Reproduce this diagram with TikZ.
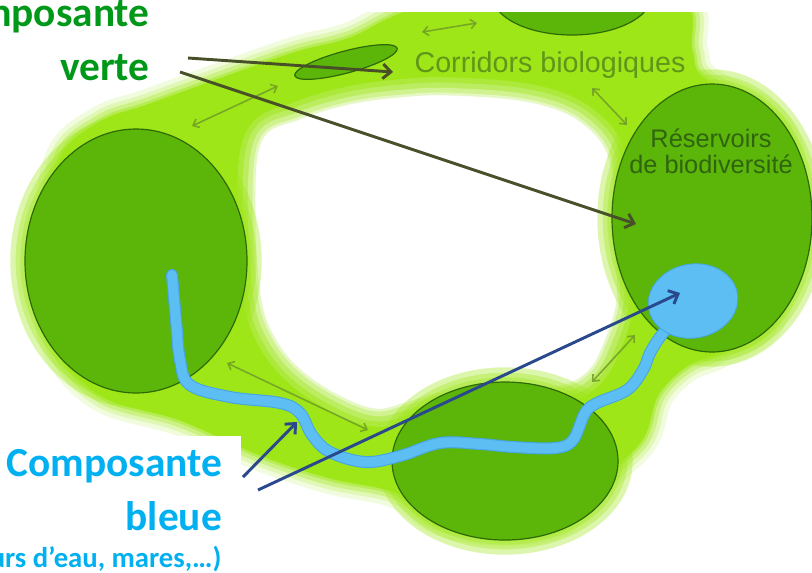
\documentclass[tikz,border=0pt]{standalone}
\usepackage{fontspec}
\setmainfont{Carlito}
\newfontfamily\arialfont{Liberation Sans}
\usetikzlibrary{arrows.meta,positioning}

\definecolor{bandlime}{RGB}{158,230,24}
\definecolor{resgreen}{RGB}{92,182,10}
\definecolor{resline}{RGB}{45,105,5}
\definecolor{riverblue}{RGB}{92,190,242}
\definecolor{riveredge}{RGB}{70,165,228}
\definecolor{labelgreen}{RGB}{0,152,24}
\definecolor{labelblue}{RGB}{0,176,240}
\definecolor{arrowolive}{RGB}{72,80,42}
\definecolor{arrowblue}{RGB}{42,72,140}
\definecolor{corridortext}{RGB}{96,150,26}
\definecolor{reservetext}{RGB}{48,100,14}
\definecolor{linkolive}{RGB}{112,156,40}

\tikzset{every picture/.style={line width=0.75pt}}
\tikzset{
  reservoir/.style={fill=resgreen, draw=resline, line width=0.9pt},
  halo/.style={draw=bandlime, line width=#1, draw opacity=0.35},
  link/.style={draw=linkolive, line width=1.2pt, draw opacity=0.85,
    {Straight Barb[length=4pt,width=7pt]}-{Straight Barb[length=4pt,width=7pt]}},
  vertearrow/.style={draw=arrowolive, line width=2.2pt, -{Straight Barb[length=6pt,width=11pt]}},
  bleuearrow/.style={draw=arrowblue, line width=2.2pt, -{Straight Barb[length=6pt,width=11pt]}},
  biglabel/.style={font=\bfseries\fontsize{31}{40}\selectfont, align=right, inner sep=0pt},
}

\begin{document}
\begin{tikzpicture}[x=0.75pt,y=0.75pt,yscale=-1,xscale=1]
\useasboundingbox (0,0) rectangle (812,572);

\begin{scope}
\clip (0,12) rectangle (812,572);
%Shape: green band (soft edge)
\foreach \w/\op/\fo in {24pt/0.15/0, 17pt/0.2/0, 11pt/0.3/0, 5pt/0.45/0, 1pt/0.8/1}
  \draw [bandlime, line width=\w, draw opacity=\op, fill=bandlime, fill opacity=\fo]
    plot [smooth cycle, tension=0.6] coordinates {(50,250) (60,160) (100,122) (150,104) (250,68) (300,51) (350,38) (420,8) (560,-10) (680,0) (692,50) (705,80) (780,130) (790,220) (770,320) (720,352) (687,366) (658,395) (642,440) (600,480) (560,520) (505,530) (440,520) (395,492) (330,478) (260,455) (180,420) (100,395) (55,340)};
%Shape: white hole (soft edge)
\foreach \w/\op/\fo in {28pt/0.15/0, 20pt/0.2/0, 12pt/0.3/0, 5pt/0.45/0, 1pt/0.8/1}
  \draw [white, line width=\w, draw opacity=\op, fill=white, fill opacity=\fo]
    plot [smooth cycle, tension=0.6] coordinates {(262,142) (300,120) (350,105) (400,98) (450,96) (530,103) (582,124) (610,165) (614,250) (616,300) (603,343) (586,372) (555,386) (500,384) (440,392) (405,402) (375,408) (338,394) (302,370) (277,340) (262,300) (256,220)};

%Shape: Ellipse top
\draw [halo=12pt] (572,-5) ellipse [x radius=80, y radius=40];
\draw [reservoir] (572,-5) ellipse [x radius=80, y radius=40];
%Shape: Ellipse left
\foreach \w in {22pt,14pt,7pt}
  \draw [halo=\w] (136,261) ellipse [x radius=111, y radius=132];
\draw [reservoir] (136,261) ellipse [x radius=111, y radius=132];
%Shape: Ellipse right
\foreach \w in {22pt,14pt,7pt}
  \draw [halo=\w] (712,218) ellipse [x radius=100, y radius=134];
\draw [reservoir] (712,218) ellipse [x radius=100, y radius=134];
%Shape: Ellipse bottom
\foreach \w in {22pt,14pt,7pt}
  \draw [halo=\w] (505,461) ellipse [x radius=113, y radius=79];
\draw [reservoir] (505,461) ellipse [x radius=113, y radius=79];
%Shape: Ellipse corridor
\draw [reservoir, rotate around={-15:(346,62)}] (346,62) ellipse [x radius=53, y radius=11];

%Straight Lines: links
\draw [link] (192,126) -- (278,86);
\draw [link] (422,32) -- (477,23);
\draw [link] (592,88) -- (627,125);
\draw [link] (635,335) -- (592,382);
\draw [link] (227,363) -- (368,430);

%Curve: river
\foreach \w/\c in {9pt/riveredge, 7.4pt/riverblue}
  \draw [\c, line width=\w, line cap=round, line join=round]
    plot [smooth, tension=0.6] coordinates {(172,275) (176,320) (180,360) (190,385) (230,397) (280,403) (300,413) (312,435) (330,452) (365,462) (400,456) (440,443) (480,444) (513,447) (555,448) (573,440) (585,413) (597,403) (627,390) (643,370) (650,353) (660,337) (672,322)};
%Shape: pond
\draw [fill=riverblue, draw=riveredge, line width=0.6pt, rotate around={-10:(693,301)}] (693,301) ellipse [x radius=45, y radius=37];
\end{scope}

% Text Node
\node [anchor=base, font=\arialfont\fontsize{21.5}{24}\selectfont, text=corridortext, inner sep=0pt] (corridors) at (550,72) {Corridors biologiques};
% Text Node
\node [anchor=north, align=center, font=\arialfont\fontsize{19}{19.5}\selectfont, text=reservetext, inner sep=0pt] (reservoirs) at (711,128) {Réservoirs\\de biodiversité};

% Text Node
\node [biglabel, text=labelgreen, anchor=base east] (verte) at (150,80) {Composante\\verte};
% Text Node
\node [biglabel, text=labelblue, fill=white, inner xsep=14pt, inner ysep=10pt, anchor=base east] (bleue) at (241,530) {Composante\\bleue};
% Text Node
\node [font=\bfseries\fontsize{21.5}{24}\selectfont, text=labelblue, fill=white, inner sep=0pt, anchor=base east] (bleuenote) at (222,567) {(cours d’eau, mares,…)};

\coordinate (verte1) at (188,58);
\coordinate (verte2) at (180,72);
\coordinate (corridor) at (393,72);
\coordinate (reservoir) at (636,224);
\coordinate (bleue1) at (243,477);
\coordinate (bleue2) at (258,490);
\coordinate (river) at (297,422);
\coordinate (pond) at (680,293);

%Straight Lines
\draw [vertearrow] (verte1) -- (corridor);
\draw [vertearrow] (verte2) -- (reservoir);
\draw [bleuearrow] (bleue1) -- (river);
\draw [bleuearrow] (bleue2) -- (pond);
\end{tikzpicture}
\end{document}
